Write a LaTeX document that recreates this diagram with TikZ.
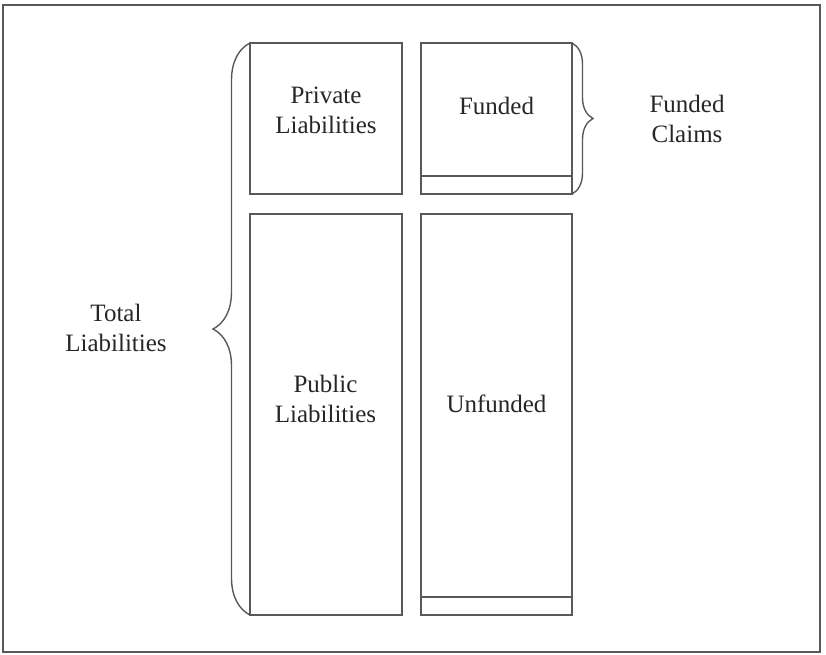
\documentclass[tikz,border=0pt]{standalone}
\usepackage{fontspec}
\setmainfont{Liberation Serif}
\newfontfamily\timesfont{Liberation Serif}
\usetikzlibrary{decorations.pathreplacing}
\begin{document}
\begin{tikzpicture}[x=1pt,y=-1pt,
  ln/.style={draw=black!65, line width=1.4pt},
  box/.style={ln, rectangle, inner sep=0pt, outer sep=0pt},
  lbl/.style={font=\timesfont\fontsize{25}{30}\selectfont, text=black!85, align=center, inner sep=0pt},
  brc/.style={ln, decorate, decoration={brace}}]
\useasboundingbox (0,0) rectangle (826,654);
\node[ln, rectangle, inner sep=0pt, minimum width=817pt, minimum height=647pt] (frame) at (411.5,328.5) {};
\node[box, minimum width=152pt, minimum height=151pt] (priv) at (326,118.5) {};
\node[box, minimum width=151pt, minimum height=151pt] (fund) at (496.5,118.5) {};
\node[box, minimum width=152pt, minimum height=401pt] (pub) at (326,414.5) {};
\node[box, minimum width=151pt, minimum height=401pt] (unf) at (496.5,414.5) {};
\coordinate (fa) at ([yshift=18pt]fund.south west);
\coordinate (fb) at ([yshift=18pt]fund.south east);
\coordinate (ua) at ([yshift=18pt]unf.south west);
\coordinate (ub) at ([yshift=18pt]unf.south east);
\draw[ln] (fa) -- (fb);
\draw[ln] (ua) -- (ub);
\draw[brc, decoration={amplitude=37pt}] (pub.south west) -- (priv.north west);
\draw[brc, decoration={amplitude=21pt}] (fund.north east) -- (fund.south east);
\node[lbl] (tPriv) at (326,110) {Private\\Liabilities};
\node[lbl] (tFund) at (496.5,106) {Funded};
\node[lbl] (tClaims) at (687,119) {Funded\\Claims};
\node[lbl] (tPub) at (325.5,399) {Public\\Liabilities};
\node[lbl] (tUnf) at (496.5,404) {Unfunded};
\node[lbl] (tTot) at (116,327.5) {Total\\Liabilities};
\end{tikzpicture}
\end{document}
